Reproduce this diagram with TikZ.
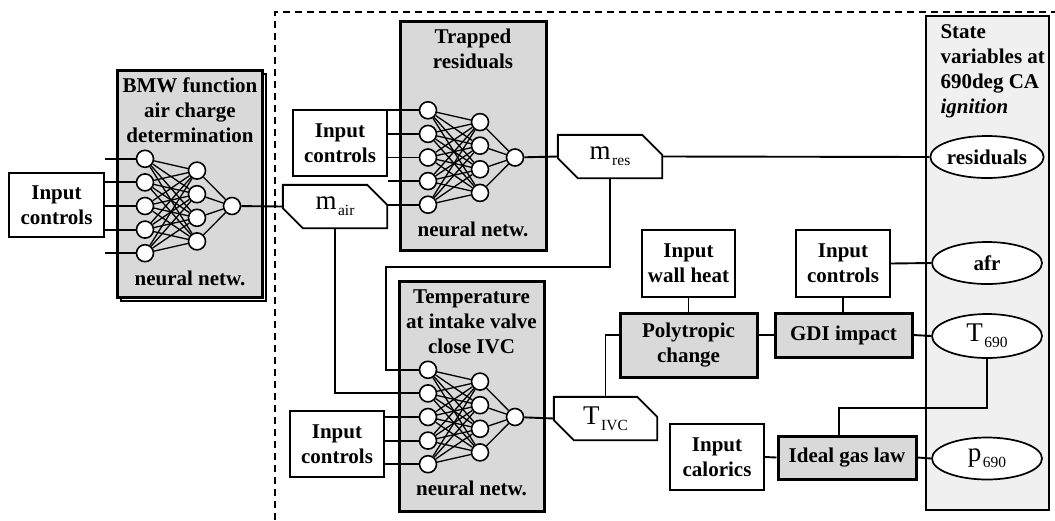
\documentclass[tikz,border=0pt]{standalone}
\usepackage{fontspec}
\setmainfont{Liberation Serif}
\usetikzlibrary{shapes.geometric}

\definecolor{boxgray}{HTML}{D9D9D9}
\definecolor{panelgray}{HTML}{F0F0F0}

% symbol with a lowered index, e.g. m_air
\newcommand{\symsub}[2]{{\fontsize{27}{30}\selectfont #1}\kern1.5pt\raisebox{-6pt}{\fontsize{15.5}{17}\selectfont #2}}

% a 5-4-1 neural network: name prefix, x of input layer, y of centre
\newcommand{\nnet}[3]{%
  \foreach \k in {1,...,5}{\node[neuron] (#1i\k) at ({#2},{#3+(\k-3)*23.6}) {};}
  \foreach \k in {1,...,4}{\node[neuron] (#1h\k) at ({#2+52},{#3+(\k-2.5)*23.6}) {};}
  \node[neuron] (#1o) at ({#2+87},{#3}) {};
  \foreach \a in {1,...,5}{\foreach \b in {1,...,4}{\draw[nnedge] (#1i\a) -- (#1h\b);}}
  \foreach \b in {1,...,4}{\draw[nnedge] (#1h\b) -- (#1o);}
}

% outline of a value tag: top-right and bottom-left corners cut off
\newcommand{\tagoutline}[1]{%
  \draw[tagline] (#1.north west) -- ([xshift=-20pt]#1.north east) -- ([yshift=-20pt]#1.north east)
    -- (#1.south east) -- ([xshift=20pt]#1.south west) -- ([yshift=20pt]#1.south west) -- cycle;
}

\begin{document}
\begin{tikzpicture}[x=1pt,y=-1pt,
  lbl/.style={font=\fontsize{21}{25}\selectfont\bfseries, align=center},
  inbox/.style={draw, line width=1.9pt, fill=white, lbl, inner sep=0pt},
  procbox/.style={draw, line width=3pt, fill=boxgray, inner sep=0pt},
  wire/.style={line width=1.9pt},
  neuron/.style={circle, draw, fill=white, line width=1.6pt, minimum size=17pt, inner sep=0pt},
  nnedge/.style={line width=1.3pt},
  tag/.style={inner sep=0pt, minimum width=104pt, minimum height=43pt},
  tagline/.style={draw, line width=1.9pt, line join=miter},
  statevar/.style={ellipse, draw, fill=white, line width=1.7pt, minimum width=110pt, minimum height=42pt, inner sep=0pt},
  frame/.style={dash pattern=on 7pt off 5pt, line width=2.6pt},
]
\useasboundingbox (0,0) rectangle (1055,520);

% calibration boundary
\draw[frame] (275,520) -- (275,12) -- (1055,12);

% state variables panel
\node[draw, fill=panelgray, line width=1.7pt, minimum width=123pt, minimum height=494pt, inner sep=0pt] (state) at (987.5,263) {};
\node[lbl, align=left, anchor=north west] (statetitle) at (937,21) {State\\variables at\\690deg CA\\\textit{ignition}};

% BMW air charge function (stacked box)
\node[draw, fill=white, line width=2pt, minimum width=145pt, minimum height=227pt] (bmwback) at (193.5,187.5) {};
\node[procbox, minimum width=145pt, minimum height=227pt] (bmw) at (189.5,183.5) {};
\node[lbl] (bmwtitle) at (190,110) {BMW function\\air charge\\determination};
\node[lbl] (bmwnn) at (190,278) {neural netw.};
\nnet{bmw}{145}{206}

% trapped residuals network
\node[procbox, minimum width=146pt, minimum height=229pt] (trp) at (473,135.5) {};
\node[lbl] (trptitle) at (473,49) {Trapped\\residuals};
\node[lbl] (trpnn) at (473,229) {neural netw.};
\nnet{trp}{428}{157.5}

% temperature at IVC network
\node[procbox, minimum width=145pt, minimum height=230pt] (tmp) at (471.5,396) {};
\node[lbl] (tmptitle) at (471.5,322) {Temperature\\at intake valve\\close IVC};
\node[lbl] (tmpnn) at (471.5,488) {neural netw.};
\nnet{tmp}{428}{417}

% inputs
\node[inbox, minimum width=95pt, minimum height=64pt] (ctrlL) at (56.5,205) {Input\\controls};
\node[inbox, minimum width=94pt, minimum height=66pt] (ctrlT) at (340,143) {Input\\controls};
\node[inbox, minimum width=94pt, minimum height=66pt] (ctrlB) at (337,444) {Input\\controls};
\node[inbox, minimum width=93pt, minimum height=67pt] (wall) at (688.5,263.5) {Input\\wall heat};
\node[inbox, minimum width=94pt, minimum height=67pt] (ctrlR) at (843,263.5) {Input\\controls};
\node[inbox, minimum width=94pt, minimum height=66pt] (calor) at (717,457) {Input\\calorics};

% physical sub-models
\node[procbox, lbl, minimum width=137pt, minimum height=64pt] (poly) at (688.5,345) {Polytropic\\change};
\node[procbox, lbl, minimum width=137pt, minimum height=44pt] (gdi) at (843.5,335) {GDI impact};
\node[procbox, lbl, minimum width=138pt, minimum height=43pt] (gas) at (847,457.5) {Ideal gas law};

% intermediate values
\node[tag] (mair) at (335,206.5) {\symsub{m}{air}};
\tagoutline{mair}
\node[tag] (mres) at (610,156.5) {\symsub{m}{res}};
\tagoutline{mres}
\node[tag, minimum width=103pt] (tivc) at (605.5,418.5) {\symsub{T}{IVC}};
\tagoutline{tivc}

% state variables
\node[statevar, lbl] (resid) at (987,157) {residuals};
\node[statevar, lbl] (afr) at (987,263) {afr};
\node[statevar, minimum height=44pt] (t690) at (987,336) {\symsub{T}{690}};
\node[statevar] (p690) at (987,458.5) {\symsub{p}{690}};

% network inputs
\foreach \k in {1,...,5}{\draw[wire] (ctrlL.east |- bmwi\k) -- (bmwi\k);}
\foreach \k in {1,...,4}{\draw[wire] (ctrlT.east |- trpi\k) -- (trpi\k);}
\draw[wire] (mair.east |- trpi5) -- (trpi5);
\foreach \k in {3,4,5}{\draw[wire] (ctrlB.east |- tmpi\k) -- (tmpi\k);}
\draw[wire] (mair.south) |- (tmpi2);
\coordinate (resknee) at (386,267);
\draw[wire] (mres.south) |- (resknee) |- (tmpi1);

% network outputs
\draw[wire] (bmwo) -- (mair.west);
\draw[wire] (trpo) -- (mres.west);
\draw[wire] (tmpo) -- (tivc.west);
\draw[wire] (mres.east) -- (resid.west);

% thermodynamic chain
\draw[wire] (tivc.north) |- (poly.west |- gdi.west);
\draw[wire] (wall.south) -- (poly.north);
\draw[wire] (poly.east |- gdi.west) -- (gdi.west);
\draw[wire] (ctrlR.south) -- (ctrlR.south |- gdi.north);
\draw[wire] (ctrlR.east) -- (afr.west);
\draw[wire] (gdi.east) -- (t690.west);
\coordinate (tknee) at (839,408);
\draw[wire] (t690.south) |- (tknee) -- (tknee |- gas.north);
\draw[wire] (calor.east) -- (gas.west);
\draw[wire] (gas.east) -- (p690.west);
\end{tikzpicture}
\end{document}
